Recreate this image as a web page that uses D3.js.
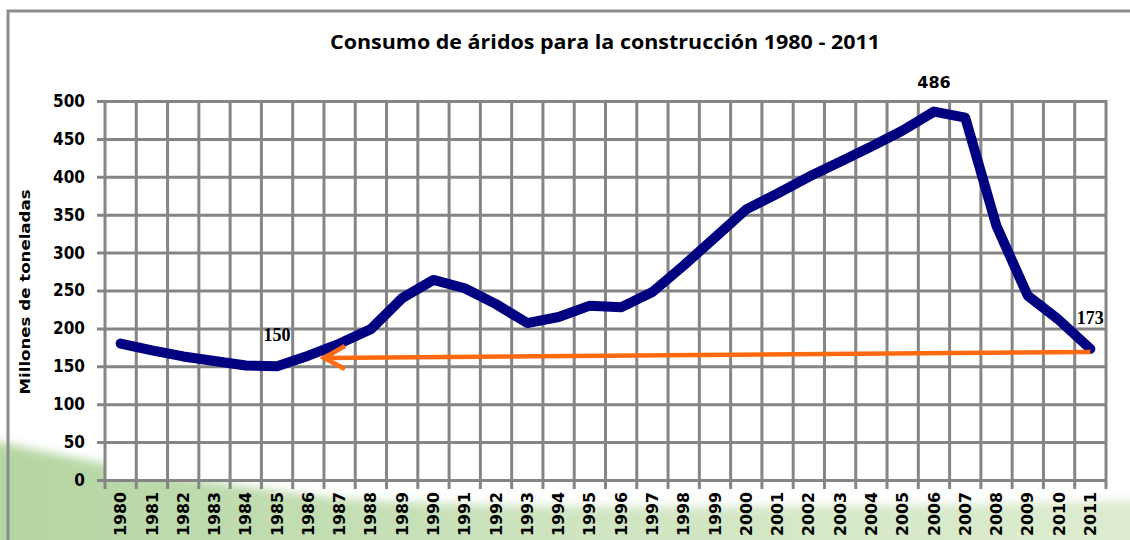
<!DOCTYPE html>
<html>
<head>
<meta charset="utf-8">
<script src="https://cdn.jsdelivr.net/npm/d3@7"></script>
<style>
  body { margin: 0; background: #fff; }
  svg { display: block; }
</style>
</head>
<body>
<svg width="1130" height="540"></svg>
<script>
// data (millones de toneladas)
const years = d3.range(1980, 2012).map(String);
const consumo = [180, 171, 163, 157, 151, 150, 164, 180, 199, 240, 264, 253, 232, 207, 215, 230, 228, 248, 283, 320, 357, 378, 400, 420, 440, 461, 486, 478, 335, 243, 211, 173];
const yTicks = [0, 50, 100, 150, 200, 250, 300, 350, 400, 450, 500];
const labelled = [["1985", 150], ["2006", 486], ["2011", 173]];
const arrowFrom = ["2011", 169];
const arrowTo = ["1987", 161];

const svg = d3.select("svg");
const defs = svg.append("defs");

// background swoosh
const grad = defs.append("linearGradient").attr("id", "green").attr("x1", 0).attr("x2", 1).attr("y1", 0).attr("y2", 0);
grad.append("stop").attr("offset", 0).attr("stop-color", "#b3d5a0");
grad.append("stop").attr("offset", 0.5).attr("stop-color", "#cfe4c0");
grad.append("stop").attr("offset", 1).attr("stop-color", "#deecd0");
defs.append("filter").attr("id", "soft")
  .append("feGaussianBlur").attr("stdDeviation", 5);

svg.append("path")
  .attr("d", "M-20,438 C80,460 200,484 360,500 C600,512 900,506 1150,500 L1150,560 L-20,560 Z")
  .attr("fill", "url(#green)")
  .attr("filter", "url(#soft)");

// frame
svg.append("path")
  .attr("d", "M8,540 V11 H1130")
  .attr("fill", "none").attr("stroke", "#8c8c8c").attr("stroke-width", 3);

const x = d3.scaleBand().domain(years).range([105, 1106]);
const y = d3.scaleLinear().domain([0, 500]).range([480, 101]);
const cx = d => x(d) + x.bandwidth() / 2;

// plot area
svg.append("rect").attr("x", 105).attr("y", 101).attr("width", 1001).attr("height", 379).attr("fill", "#fff");

const grid = "#858585";

// horizontal grid + y labels
const yAxis = svg.append("g")
  .attr("transform", "translate(97,0)")
  .call(d3.axisLeft(y).tickValues(yTicks).tickSize(-1009).tickSizeOuter(0).tickPadding(12));
yAxis.select(".domain").remove();
yAxis.selectAll("line").attr("stroke", grid).attr("stroke-width", 3);
yAxis.selectAll("text")
  .attr("font-family", "'DejaVu Sans Condensed', 'DejaVu Sans', sans-serif")
  .attr("font-weight", "bold").attr("font-size", 17).attr("fill", "#000");

// vertical grid at category boundaries
const bounds = years.map(d => x(d)).concat([x.range()[1]]);
svg.append("g").selectAll("line").data(bounds).join("line")
  .attr("x1", d => d).attr("x2", d => d)
  .attr("y1", y(500) - 1).attr("y2", 489)
  .attr("stroke", grid).attr("stroke-width", 3);

// x labels
const xAxis = svg.append("g")
  .attr("transform", "translate(0,480)")
  .call(d3.axisBottom(x).tickSize(0).tickSizeOuter(0));
xAxis.select(".domain").remove();
xAxis.selectAll("text")
  .attr("transform", "rotate(-90)")
  .attr("x", -12).attr("y", 0).attr("dy", "0.36em")
  .attr("text-anchor", "end")
  .attr("textLength", 44).attr("lengthAdjust", "spacingAndGlyphs")
  .attr("font-family", "'DejaVu Sans', sans-serif")
  .attr("font-weight", "bold").attr("font-size", 15.5).attr("fill", "#000");

// series line
const line = d3.line().x((d, i) => cx(years[i])).y(d => y(d));
svg.append("path")
  .datum(consumo)
  .attr("d", line)
  .attr("fill", "none")
  .attr("stroke", "#000080")
  .attr("stroke-width", 10)
  .attr("stroke-linejoin", "round")
  .attr("stroke-linecap", "round");

// orange arrow
const ax1 = cx(arrowFrom[0]), ay1 = y(arrowFrom[1]);
const ax2 = x(arrowTo[0]), ay2 = y(arrowTo[1]);
svg.append("path")
  .attr("d", `M${ax1},${ay1} L${ax2},${ay2} M${ax2 + 21},${ay2 - 12} L${ax2},${ay2} L${ax2 + 21},${ay2 + 11}`)
  .attr("fill", "none").attr("stroke", "#ff6a10").attr("stroke-width", 4.5)
  .attr("stroke-linejoin", "miter");

// point labels
svg.append("g").selectAll("text").data(labelled).join("text")
  .attr("x", d => cx(d[0]))
  .attr("y", d => y(d[1]) - (d[1] === 486 ? 24 : 25))
  .attr("text-anchor", "middle")
  .attr("font-family", d => d[1] === 486 ? "'DejaVu Sans', sans-serif" : "'Liberation Serif', serif")
  .attr("font-weight", "bold")
  .attr("font-size", d => d[1] === 486 ? 16 : 18)
  .attr("fill", "#000")
  .text(d => d[1]);

// title
svg.append("text")
  .attr("x", 605).attr("y", 49)
  .attr("text-anchor", "middle")
  .attr("textLength", 550).attr("lengthAdjust", "spacingAndGlyphs")
  .attr("font-family", "'Open Sans', sans-serif")
  .attr("font-weight", "bold").attr("font-size", 19)
  .text("Consumo de áridos para la construcción 1980 - 2011");

// y title
svg.append("text")
  .attr("transform", "translate(30,292) rotate(-90)")
  .attr("text-anchor", "middle")
  .attr("textLength", 205).attr("lengthAdjust", "spacingAndGlyphs")
  .attr("font-family", "'DejaVu Sans', sans-serif")
  .attr("font-weight", "bold").attr("font-size", 14)
  .text("Millones de toneladas");
</script>
</body>
</html>
